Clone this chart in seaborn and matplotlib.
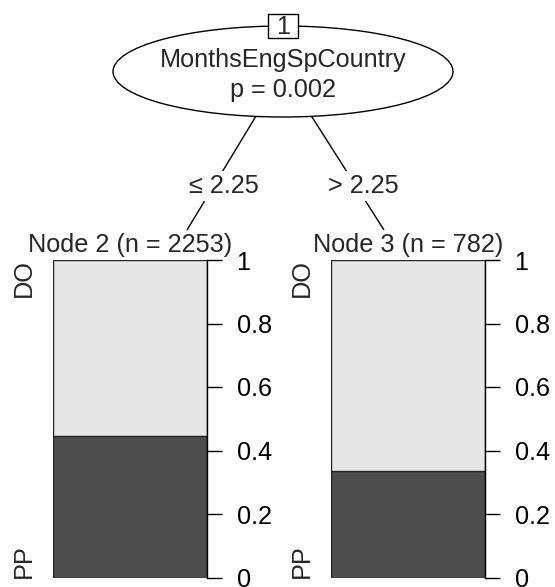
import matplotlib
matplotlib.use("Agg")
import matplotlib.pyplot as plt
from matplotlib.patches import Ellipse, Rectangle
import pandas as pd
import seaborn as sns

# ---- tree content ----
split_var = "MonthsEngSpCountry"
split_pval = "p = 0.002"
root_id = 1
edge_labels = ["\u2264 2.25", "> 2.25"]
node_ids = [2, 3]
node_n = [2253, 782]
class_labels = ["DO", "PP"]          # top, bottom
prop_pp = [0.445, 0.334]             # share of PP in each terminal node
prop_ticks = [0, 0.2, 0.4, 0.6, 0.8, 1]
tick_labels = ["0", "0.2", "0.4", "0.6", "0.8", "1"]

col_pp = "#4D4D4D"
col_do = "#E6E6E6"

sns.set_theme(style="white")
plt.rcParams["font.family"] = ["Liberation Sans", "DejaVu Sans"]
FS = 18.2

W, H = 555, 587
fig = plt.figure(figsize=(W / 100, H / 100), dpi=100)
fig.patch.set_facecolor("white")

# canvas in pixel units for the tree skeleton
bg = fig.add_axes([0, 0, 1, 1])
bg.set_xlim(0, W)
bg.set_ylim(H, 0)
bg.axis("off")

# layout (pixels)
root_xy = (283, 71.5)
ell_w, ell_h = 340, 91
kid_top = [(187, 230), (384, 230)]
label_xy = [(224, 186), (363, 186)]
bar_left = [53, 331]
bar_w = 154
bar_top, bar_bot = 260, 577.5

# edges
for (kx, ky) in kid_top:
    bg.plot([root_xy[0], kx], [root_xy[1], ky], color="black", lw=1.0, zorder=1,
            solid_capstyle="butt")
for (lx, ly), lab in zip(label_xy, edge_labels):
    bg.text(lx, ly, lab, ha="center", va="center", fontsize=FS, zorder=3,
            bbox=dict(boxstyle="square,pad=0.1", fc="white", ec="none"))

# inner node
bg.add_patch(Ellipse(root_xy, ell_w, ell_h, fc="white", ec="black", lw=1.0, zorder=2))
bg.text(root_xy[0], root_xy[1] - 11, split_var, ha="center", va="center", fontsize=FS, zorder=3)
bg.text(root_xy[0], root_xy[1] + 18, split_pval, ha="center", va="center", fontsize=FS, zorder=3)
bg.add_patch(Rectangle((root_xy[0] - 15, 14), 30, 24, fc="white", ec="black", lw=1.0, zorder=4))
bg.text(root_xy[0], 26.5, str(root_id), ha="center", va="center", fontsize=FS, zorder=5)

# terminal nodes
for i, (nid, n, pp) in enumerate(zip(node_ids, node_n, prop_pp)):
    x0 = bar_left[i]
    ax = fig.add_axes([x0 / W, (H - bar_bot) / H, bar_w / W, (bar_bot - bar_top) / H])
    d = pd.DataFrame({"node": [f"Node {nid}"], "total": [1.0], "PP": [pp]})
    sns.barplot(data=d, x="node", y="total", color=col_do, saturation=1, width=1,
                edgecolor="#222222", linewidth=1.0, ax=ax)
    sns.barplot(data=d, x="node", y="PP", color=col_pp, saturation=1, width=1,
                edgecolor="#222222", linewidth=1.0, ax=ax)
    ax.set_xlim(-0.5, 0.5)
    ax.set_ylim(0, 1)
    ax.set_xlabel("")
    ax.set_ylabel("")
    ax.set_xticks([])
    ax.yaxis.tick_right()
    ax.set_yticks(prop_ticks)
    ax.set_yticklabels(tick_labels)
    ax.tick_params(axis="y", direction="out", length=10.8, width=1.0, pad=10.5,
                   labelsize=FS, colors="black", right=True, left=False)
    for s in ["top", "left", "bottom"]:
        ax.spines[s].set_visible(False)
    ax.spines["right"].set_color("black")
    ax.spines["right"].set_linewidth(1.0)
    ax.set_facecolor("none")
    ax.patch.set_alpha(0)

    cx = x0 + bar_w / 2
    bg.text(cx, 245, f"Node {nid} (n = {n})", ha="center", va="center", fontsize=FS)
    bg.text(x0 - 29, bar_top - 1, class_labels[0], rotation=90, ha="center", va="top", fontsize=FS)
    bg.text(x0 - 29, bar_bot + 1, class_labels[1], rotation=90, ha="center", va="bottom", fontsize=FS)

fig.savefig("out.png", dpi=100, facecolor="white")
